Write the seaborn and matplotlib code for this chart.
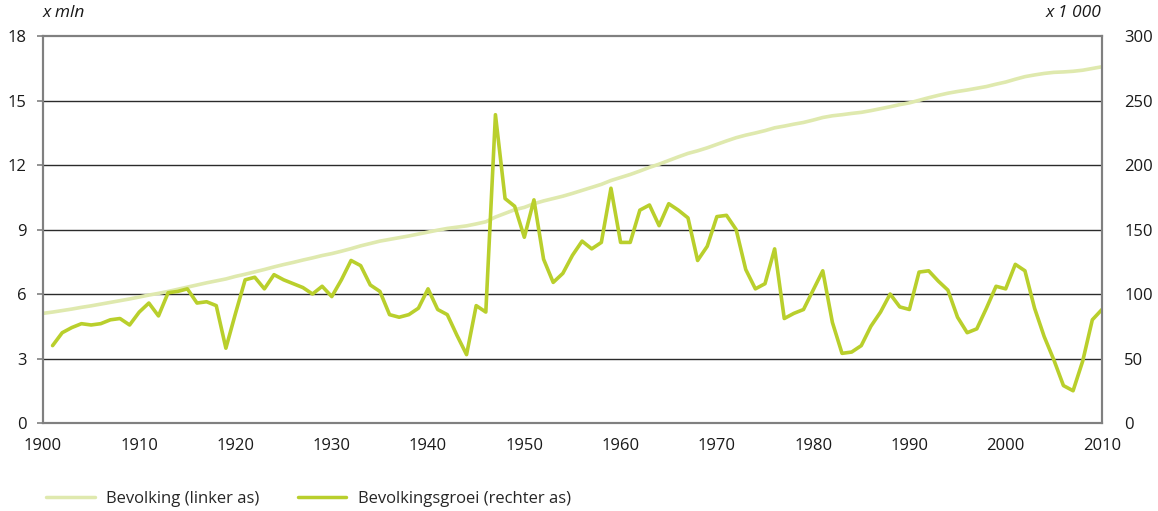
import matplotlib
matplotlib.use("Agg")
import matplotlib.pyplot as plt
import pandas as pd
import seaborn as sns

years_pop = list(range(1900, 2011))
population = [
    5.10, 5.16, 5.23, 5.30, 5.38, 5.45, 5.53, 5.61, 5.69, 5.77,
    5.86, 5.95, 6.03, 6.12, 6.22, 6.32, 6.42, 6.52, 6.61, 6.70,
    6.82, 6.92, 7.03, 7.14, 7.26, 7.37, 7.47, 7.58, 7.68, 7.79,
    7.88, 7.99, 8.11, 8.24, 8.35, 8.46, 8.54, 8.62, 8.70, 8.79,
    8.88, 8.97, 9.05, 9.11, 9.17, 9.26, 9.36, 9.58, 9.75, 9.92,
    10.03, 10.20, 10.33, 10.44, 10.55, 10.68, 10.82, 10.96, 11.10, 11.28,
    11.42, 11.56, 11.72, 11.89, 12.04, 12.21, 12.38, 12.54, 12.66, 12.80,
    12.96, 13.12, 13.27, 13.39, 13.49, 13.60, 13.73, 13.81, 13.90, 13.98,
    14.09, 14.21, 14.29, 14.34, 14.40, 14.45, 14.53, 14.62, 14.71, 14.81,
    14.89, 15.01, 15.13, 15.24, 15.34, 15.42, 15.49, 15.57, 15.65, 15.76,
    15.86, 15.99, 16.11, 16.19, 16.26, 16.31, 16.33, 16.36, 16.41, 16.49,
    16.57,
]

years_growth = list(range(1901, 2011))
growth = [
    60, 70, 74, 77, 76, 77, 80, 81, 76, 86,
    93, 83, 101, 102, 104, 93, 94, 91, 58, 85,
    111, 113, 104, 115, 111, 108, 105, 100, 106, 98,
    111, 126, 122, 107, 102, 84, 82, 84, 89, 104,
    88, 84, 68, 53, 91, 86, 239, 174, 168, 144,
    173, 127, 109, 116, 130, 141, 135, 140, 182, 140,
    140, 165, 169, 153, 170, 165, 159, 126, 137, 160,
    161, 150, 119, 104, 108, 135, 81, 85, 88, 103,
    118, 78, 54, 55, 60, 75, 86, 100, 90, 88,
    117, 118, 110, 103, 82, 70, 73, 89, 106, 104,
    123, 118, 89, 67, 49, 29, 25, 48, 80, 88,
]

x_ticks = list(range(1900, 2011, 10))
left_ticks = [0, 3, 6, 9, 12, 15, 18]
right_ticks = [0, 50, 100, 150, 200, 250, 300]

pop_color = "#dfe9ae"
growth_color = "#b9cf2c"
spine_color = "#808080"

df_pop = pd.DataFrame({"year": years_pop, "value": population})
df_growth = pd.DataFrame({"year": years_growth, "value": growth})

sns.set_style("white")
plt.rcParams["font.family"] = ["Open Sans", "DejaVu Sans"]
plt.rcParams["font.size"] = 12

fig = plt.figure(figsize=(11.58, 5.11), dpi=100)
ax = fig.add_axes([0.0371, 0.1722, 0.9145, 0.7573])
ax2 = ax.twinx()

for y in left_ticks[1:-1]:
    ax.axhline(y, color="#2b2b2b", lw=1.0, zorder=0)

sns.lineplot(data=df_pop, x="year", y="value", ax=ax, color=pop_color, lw=2.6)
sns.lineplot(data=df_growth, x="year", y="value", ax=ax2, color=growth_color, lw=2.6)

ax.set_xlim(1900, 2010)
ax.set_ylim(0, 18)
ax2.set_ylim(0, 300)
ax.set_xticks(x_ticks)
ax.set_yticks(left_ticks)
ax2.set_yticks(right_ticks)
ax.set_xlabel("")
ax.set_ylabel("")
ax2.set_ylabel("")

for a in (ax, ax2):
    for side in ("left", "right", "top", "bottom"):
        a.spines[side].set_color(spine_color)
        a.spines[side].set_linewidth(1.5)
ax.spines["top"].set_color("#555555")

ax.tick_params(axis="x", direction="out", length=5, width=1.2, color=spine_color, pad=6,
               labelcolor="#1a1a1a")
ax.tick_params(axis="y", direction="out", length=4, width=1.2, color=spine_color, pad=8,
               labelcolor="#1a1a1a")
ax2.tick_params(axis="y", length=0, pad=16, labelcolor="#1a1a1a")

ax.text(0.0, 1.04, "x mln", transform=ax.transAxes, style="italic", ha="left",
        va="bottom", fontsize=12.5, color="#1a1a1a")
ax2.text(1.0, 1.04, "x 1 000", transform=ax2.transAxes, style="italic", ha="right",
         va="bottom", fontsize=12.5, color="#1a1a1a")

handles = [
    plt.Line2D([], [], color=pop_color, lw=2.5),
    plt.Line2D([], [], color=growth_color, lw=2.5),
]
fig.legend(handles, ["Bevolking (linker as)", "Bevolkingsgroei (rechter as)"],
           loc="lower left", bbox_to_anchor=(0.027, -0.022), ncol=2, frameon=False,
           handlelength=2.9, handletextpad=0.7, columnspacing=2.3, fontsize=12)

fig.savefig("out.png", dpi=100)
